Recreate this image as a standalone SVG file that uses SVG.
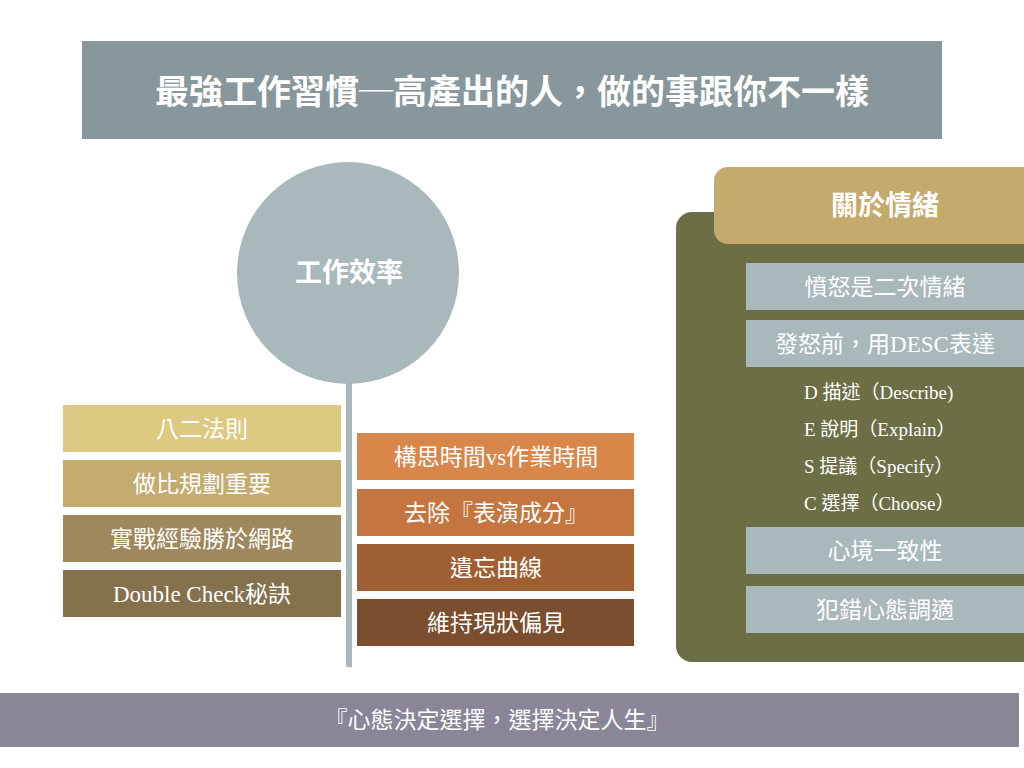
<svg xmlns="http://www.w3.org/2000/svg" width="1024" height="768" viewBox="0 0 1024 768">
<style>
text{font-family:"Liberation Serif","Noto Sans CJK TC",serif;fill:#fff;text-anchor:middle;}
.h{font-weight:bold;}
.t{font-size:23px;}
.s{font-size:19px;text-anchor:start;}
</style>
<rect width="1024" height="768" fill="#fff"/>
<g id="title">
<rect x="82" y="41" width="860" height="98" fill="#87979B"/>
<text x="512" y="104" class="h" font-size="34">最強工作習慣<tspan font-family="Noto Sans CJK TC">─</tspan>高產出的人，做的事跟你不一樣</text>
</g>
<g id="connectors">
<rect x="346" y="370" width="6" height="297" fill="#A9B8BA"/>
</g>
<g id="efficiency">
<circle cx="348" cy="273" r="111" fill="#A9B8BA"/>
<text x="349" y="282" class="h" font-size="27">工作效率</text>
</g>
<g id="left1"><rect x="63" y="405" width="278" height="47" fill="#DEC982"/><text x="202" y="437" class="t">八二法則</text></g>
<g id="left2"><rect x="63" y="460" width="278" height="47" fill="#C4AB70"/><text x="202" y="492" class="t">做比規劃重要</text></g>
<g id="left3"><rect x="63" y="515" width="278" height="47" fill="#9F885B"/><text x="202" y="547" class="t">實戰經驗勝於網路</text></g>
<g id="left4"><rect x="63" y="570" width="278" height="47" fill="#85714B"/><text x="202" y="602" class="t">Double Check秘訣</text></g>
<g id="right1"><rect x="357" y="433" width="277" height="47" fill="#D8864A"/><text x="496" y="465" class="t">構思時間vs作業時間</text></g>
<g id="right2"><rect x="357" y="489" width="277" height="47" fill="#C5753F"/><text x="496" y="521" class="t">去除『表演成分』</text></g>
<g id="right3"><rect x="357" y="544" width="277" height="47" fill="#A05F33"/><text x="496" y="576" class="t">遺忘曲線</text></g>
<g id="right4"><rect x="357" y="599" width="277" height="47" fill="#7A4E2E"/><text x="496" y="631" class="t">維持現狀偏見</text></g>
<g id="emotion">
<rect x="676" y="212" width="370" height="450" rx="16" fill="#6C6E46"/>
<rect x="714" y="167" width="330" height="77" rx="14" fill="#C4AA6C"/>
<text x="885" y="215" class="h" font-size="27">關於情緒</text>
</g>
<g id="e1"><rect x="746" y="263" width="278" height="47" fill="#A9B8BA"/><text x="885" y="295" class="t">憤怒是二次情緒</text></g>
<g id="e2"><rect x="746" y="320" width="278" height="47" fill="#A9B8BA"/><text x="885" y="352" class="t">發怒前，用DESC表達</text></g>
<g id="desc">
<text x="804" y="399" class="s">D 描述（Describe)</text>
<text x="804" y="436" class="s">E 說明（Explain）</text>
<text x="804" y="473" class="s">S 提議（Specify）</text>
<text x="804" y="510" class="s">C 選擇（Choose）</text>
</g>
<g id="e3"><rect x="746" y="527" width="278" height="47" fill="#A9B8BA"/><text x="885" y="559" class="t">心境一致性</text></g>
<g id="e4"><rect x="746" y="586" width="278" height="47" fill="#A9B8BA"/><text x="885" y="618" class="t">犯錯心態調適</text></g>
<g id="footer">
<rect x="0" y="693" width="1019" height="54" fill="#8A8697"/>
<text x="497" y="728" font-size="23">『心態決定選擇，選擇決定人生』</text>
</g>
</svg>
